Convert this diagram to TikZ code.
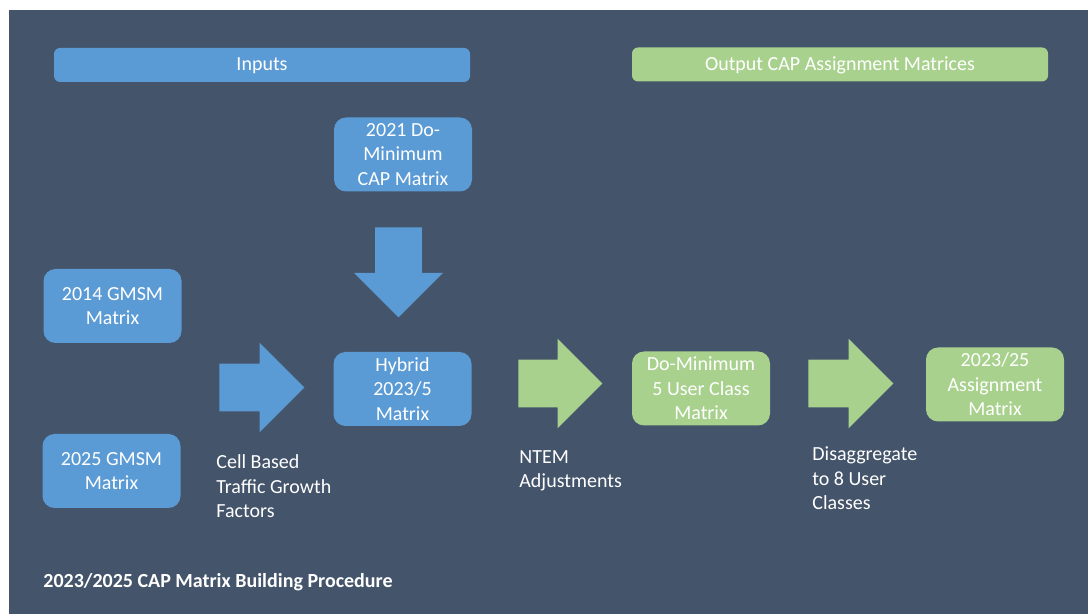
\documentclass[tikz,border=0pt]{standalone}
\usepackage{fontspec}
\setmainfont{Carlito}
\usepackage{tikz}
\usetikzlibrary{positioning}
\usetikzlibrary{shapes.arrows}
\usepackage{xcolor}

\definecolor{slate}{HTML}{44546A}
\definecolor{inblue}{HTML}{5B9BD5}
\definecolor{outgreen}{HTML}{A9D18E}

\begin{document}
\begin{tikzpicture}[
		x=0.5pt, y=-0.5pt,
		bar/.style = {rectangle, rounded corners=3pt, text=white, minimum width=208pt, minimum height=17pt, inner sep=0pt, text height=7.5pt, text depth=1.5pt},
		mat/.style = {rectangle, rounded corners=6pt, fill=inblue, text=white, align=center, minimum width=69pt, minimum height=37pt, inner sep=0pt},
		gmat/.style = {mat, fill=outgreen},
		arr/.style = {single arrow, anchor=tail, fill=inblue, inner xsep=0pt, inner ysep=11.75pt, single arrow head extend=10.5pt},
		garr/.style = {arr, fill=outgreen},
		lbl/.style = {anchor=base west, align=left, text=white, inner sep=0pt},
		font=\fontsize{10}{12.3}\selectfont
		]
		
		%Background
		\useasboundingbox (0, 0) rectangle (1088, 614);
		\fill[white]	(0, 0)	rectangle	(1088, 614);
		\fill[slate]	(9, 10)	rectangle	(1088, 614);
		
		%Nodes
		\node[bar, fill=inblue]		(inputs)	at	(262, 65)		{Inputs};
		\node[bar, fill=outgreen]	(outputs)	at	(840, 64.5)		{Output CAP Assignment Matrices};
		\node[mat]	(cap21)		at	(403, 154.5)	{2021 Do-\\Minimum\\CAP Matrix};
		\node[mat]	(gmsm14)	at	(112.5, 306)	{2014 GMSM\\Matrix};
		\node[mat]	(gmsm25)	at	(111.5, 471)	{2025 GMSM\\Matrix};
		\node[mat]	(hybrid)	at	(402.5, 389)	{Hybrid\\2023/5\\Matrix};
		\node[gmat]	(dmin)		at	(701, 388.5)	{Do-Minimum\\5 User Class\\Matrix};
		\node[gmat]	(assign)	at	(995, 384.5)	{2023/25\\Assignment\\Matrix};
		
		%Arrows
		\node[arr, minimum height=45pt, shape border rotate=270, inner xsep=11.5pt, inner ysep=0pt]	(down)	at	(398.5, 227)	{};
		\node[arr, minimum height=42.5pt]	(growth)	at	(219, 387.5)	{};
		\node[garr, minimum height=42pt]	(ntem)		at	(518, 383.5)	{};
		\node[garr, minimum height=42.5pt]	(disagg)	at	(808, 383.5)	{};
		
		%Labels
		\node[lbl]	(growthtxt)	at	(216, 518)	{Cell Based\\Traffic Growth\\Factors};
		\node[lbl]	(ntemtxt)	at	(519, 488)	{NTEM\\Adjustments};
		\node[lbl]	(disaggtxt)	at	(812, 510)	{Disaggregate\\to 8 User\\Classes};
		\node[lbl, font=\bfseries]	(title)	at	(43, 588)	{2023/2025 CAP Matrix Building Procedure};
	\end{tikzpicture}
\end{document}
